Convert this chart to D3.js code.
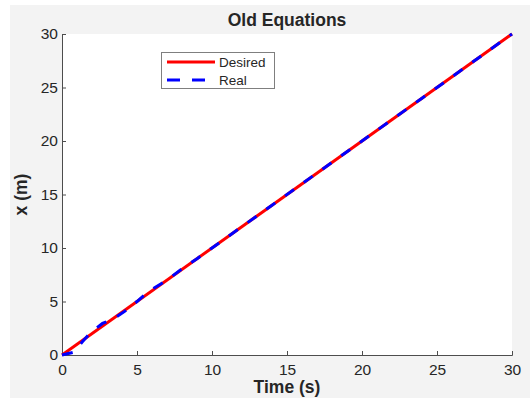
<!DOCTYPE html>
<html>
<head>
<meta charset="utf-8">
<script src="https://cdn.jsdelivr.net/npm/d3@7/dist/d3.min.js"></script>
<style>
  html, body { margin: 0; padding: 0; background: #ffffff; }
  svg { display: block; }
  text { font-family: "Liberation Sans", Arial, Helvetica, sans-serif; }
</style>
</head>
<body>
<svg id="chart" width="530" height="398"></svg>
<script>
// Desired trajectory and measured ("Real") position over time
const desiredTime = [0, 30];
const desiredX = [0, 30];
const realTime = [0, 0.75, 1.4, 1.9, 2.7, 3.4, 4.2, 5, 5.6, 6.2, 7, 8, 9, 10, 12, 14, 16, 18, 20, 22, 24, 26, 28, 30];
const realX    = [0, 0.25, 1.3, 2.1, 2.95, 3.35, 4.1, 5, 5.75, 6.3, 7, 8.05, 9, 10, 12, 14, 16, 18, 20, 22, 24, 26, 28, 30];
const xTicks = [0, 5, 10, 15, 20, 25, 30];
const yTicks = [0, 5, 10, 15, 20, 25, 30];

const svg = d3.select("#chart");
const W = 530, H = 398;
const plot = { left: 62, right: 512, top: 34, bottom: 355 };

// figure background
svg.append("rect").attr("x", 10).attr("y", 5).attr("width", W - 10).attr("height", H - 5)
  .attr("fill", "#f3f3f3");
// axes background
svg.append("rect").attr("x", plot.left).attr("y", plot.top)
  .attr("width", plot.right - plot.left).attr("height", plot.bottom - plot.top)
  .attr("fill", "#ffffff");

const x = d3.scaleLinear().domain([0, 30]).range([plot.left, plot.right]);
const y = d3.scaleLinear().domain([0, 30]).range([plot.bottom, plot.top]);

const axisColor = "#4d4d4d";
const xAxis = svg.append("g").attr("transform", `translate(0,${plot.bottom})`)
  .call(d3.axisBottom(x).tickValues(xTicks).tickSize(-4).tickPadding(7).tickFormat(d3.format("d")));
const yAxis = svg.append("g").attr("transform", `translate(${plot.left},0)`)
  .call(d3.axisLeft(y).tickValues(yTicks).tickSize(-4).tickPadding(7).tickFormat(d3.format("d")));
[xAxis, yAxis].forEach(g => {
  g.select(".domain").attr("stroke", axisColor).attr("stroke-width", 1);
  g.selectAll(".tick line").attr("stroke", axisColor);
  g.selectAll(".tick text").attr("fill", "#262626").attr("font-size", 15.5)
    .style("font-family", '"Liberation Sans", Arial, sans-serif');
});
xAxis.selectAll(".tick text").attr("dy", "0.85em");
yAxis.selectAll(".tick text").attr("dx", "3");

const line = d3.line().x(d => x(d[0])).y(d => y(d[1]));

svg.append("path")
  .datum(desiredTime.map((t, i) => [t, desiredX[i]]))
  .attr("d", line).attr("fill", "none").attr("stroke", "#ff0000").attr("stroke-width", 3);

svg.append("path")
  .datum(realTime.map((t, i) => [t, realX[i]]))
  .attr("d", line).attr("fill", "none").attr("stroke", "#0000ff").attr("stroke-width", 3)
  .attr("stroke-dasharray", "11,12");

// title and axis labels
svg.append("text").attr("x", (plot.left + plot.right) / 2).attr("y", 26)
  .attr("text-anchor", "middle").attr("font-size", 17.5).attr("font-weight", "bold")
  .attr("fill", "#262626").text("Old Equations");
svg.append("text").attr("x", (plot.left + plot.right) / 2).attr("y", 393)
  .attr("text-anchor", "middle").attr("font-size", 17.5).attr("font-weight", "bold")
  .attr("fill", "#262626").text("Time (s)");
svg.append("text").attr("transform", `translate(27,${(plot.top + plot.bottom) / 2}) rotate(-90)`)
  .attr("text-anchor", "middle").attr("font-size", 17.5).attr("font-weight", "bold")
  .attr("fill", "#262626").text("x (m)");

// legend
const legend = svg.append("g");
legend.append("rect").attr("x", 161.5).attr("y", 52.5).attr("width", 113).attr("height", 36)
  .attr("fill", "#ffffff").attr("stroke", "#7f7f7f").attr("stroke-width", 1);
const entries = [
  { name: "Desired", color: "#ff0000", dash: null },
  { name: "Real", color: "#0000ff", dash: "13,12" }
];
entries.forEach((e, i) => {
  const yy = 62 + i * 18;
  legend.append("line").attr("x1", 167).attr("x2", 215).attr("y1", yy).attr("y2", yy)
    .attr("stroke", e.color).attr("stroke-width", 3).attr("stroke-dasharray", e.dash);
  legend.append("text").attr("x", 219).attr("y", yy).attr("dy", "0.35em")
    .attr("font-size", 13.5).attr("fill", "#262626").text(e.name);
});
</script>
</body>
</html>
